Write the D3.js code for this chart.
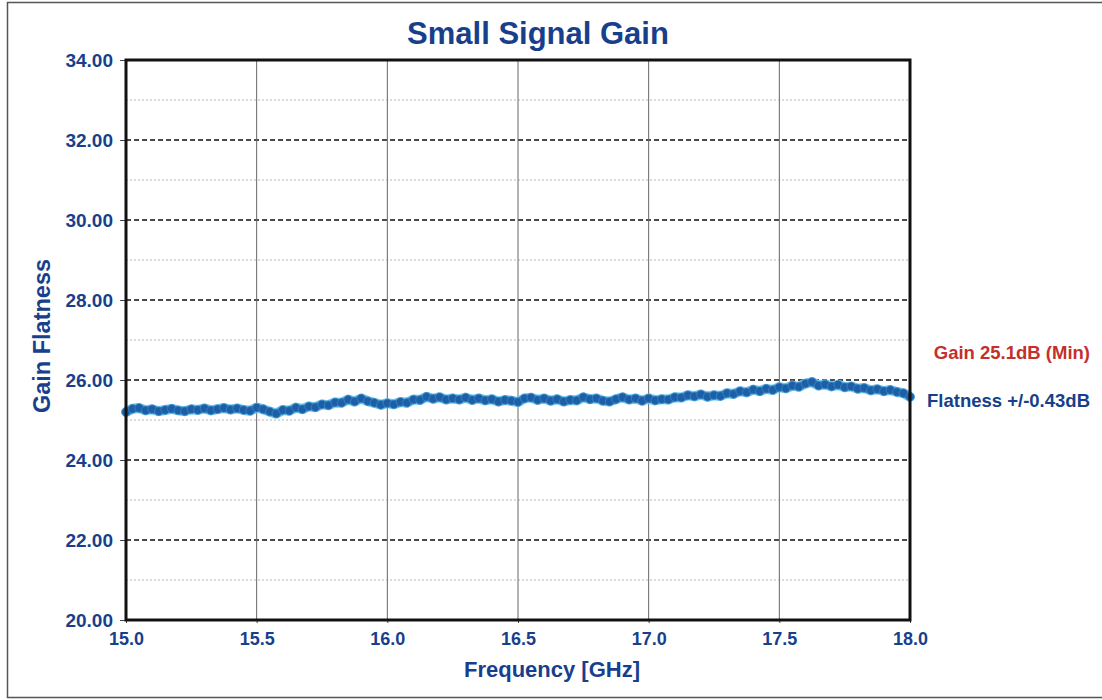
<!DOCTYPE html>
<html>
<head>
<meta charset="utf-8">
<script src="https://cdn.jsdelivr.net/npm/d3@7"></script>
<style>
  html, body { margin: 0; padding: 0; background: #fff; }
  svg { display: block; font-family: "Liberation Sans", Arial, sans-serif; }
</style>
</head>
<body>
<svg id="chart" width="1102" height="700"></svg>
<script>
// ---- data ----
const title = "Small Signal Gain";
const xLabel = "Frequency [GHz]";
const yLabel = "Gain Flatness";
const xTicks = [15.0, 15.5, 16.0, 16.5, 17.0, 17.5, 18.0];
const yTicks = [20, 22, 24, 26, 28, 30, 32, 34];
const yMinorTicks = [21, 23, 25, 27, 29, 31, 33];
const freqStart = 15.0;
const freqStep = 0.025;
const gain = [
  25.20, 25.28, 25.30, 25.24, 25.27, 25.22, 25.25, 25.28, 25.24, 25.22,
  25.27, 25.25, 25.29, 25.24, 25.27, 25.30, 25.26, 25.29, 25.25, 25.23,
  25.31, 25.27, 25.21, 25.16, 25.25, 25.23, 25.31, 25.27, 25.34, 25.32,
  25.39, 25.37, 25.44, 25.43, 25.51, 25.46, 25.54, 25.47, 25.43, 25.38,
  25.42, 25.39, 25.45, 25.43, 25.51, 25.50, 25.58, 25.53, 25.57, 25.51,
  25.54, 25.51, 25.56, 25.50, 25.54, 25.49, 25.52, 25.46, 25.50, 25.48,
  25.45, 25.54, 25.56, 25.50, 25.54, 25.48, 25.52, 25.46, 25.50, 25.49,
  25.57, 25.52, 25.54, 25.48, 25.46, 25.52, 25.57, 25.51, 25.54, 25.48,
  25.54, 25.49, 25.52, 25.51, 25.57, 25.56, 25.62, 25.59, 25.64, 25.58,
  25.62, 25.60, 25.67, 25.65, 25.72, 25.69, 25.76, 25.72, 25.78, 25.75,
  25.82, 25.79, 25.86, 25.83, 25.91, 25.95, 25.86, 25.89, 25.84, 25.88,
  25.82, 25.84, 25.78, 25.80, 25.74, 25.77, 25.72, 25.75, 25.70, 25.67,
  25.58
];
const notes = ["Gain 25.1dB (Min)", "Flatness +/-0.43dB"];

// ---- layout ----
const svg = d3.select("#chart");
const blue = "#183f8c";
const plot = { left: 126, right: 910, top: 60, bottom: 620 };

const x = d3.scaleLinear().domain([15, 18]).range([plot.left, plot.right]);
const y = d3.scaleLinear().domain([20, 34]).range([plot.bottom, plot.top]);

// outer page border (top, left, bottom)
svg.append("path")
  .attr("d", "M1102,2.5 H7.5 V697.5 H1102")
  .attr("fill", "none").attr("stroke", "#555").attr("stroke-width", 1.5);

// title
svg.append("text").attr("x", 538).attr("y", 44)
  .attr("text-anchor", "middle").attr("font-size", 31).attr("font-weight", "bold")
  .attr("fill", blue).text(title);

// minor horizontal dotted grid
svg.append("g").selectAll("line").data(yMinorTicks).join("line")
  .attr("x1", plot.left).attr("x2", plot.right)
  .attr("y1", d => y(d)).attr("y2", d => y(d))
  .attr("stroke", "#b5b5b5").attr("stroke-width", 1).attr("stroke-dasharray", "2,2");

// major horizontal dashed grid
svg.append("g").selectAll("line").data(yTicks.filter(d => d > 20 && d < 34)).join("line")
  .attr("x1", plot.left).attr("x2", plot.right)
  .attr("y1", d => y(d)).attr("y2", d => y(d))
  .attr("stroke", "#111").attr("stroke-width", 1.4).attr("stroke-dasharray", "5,3");

// vertical grid
svg.append("g").selectAll("line").data(xTicks.filter(d => d > 15 && d < 18)).join("line")
  .attr("x1", d => x(d)).attr("x2", d => x(d))
  .attr("y1", plot.top).attr("y2", plot.bottom)
  .attr("stroke", "#666").attr("stroke-width", 1);

// axes
const yAxis = d3.axisLeft(y).tickValues(yTicks).tickFormat(d3.format(".2f")).tickSize(6).tickPadding(7);
const gy = svg.append("g").attr("transform", `translate(${plot.left},0)`).call(yAxis);
gy.select(".domain").remove();
gy.selectAll(".tick line").attr("stroke", "#444");
gy.selectAll("text").attr("font-size", 19).attr("font-weight", "bold").attr("fill", blue)
  .attr("font-family", "Liberation Sans, Arial, sans-serif");

const xAxis = d3.axisBottom(x).tickValues(xTicks).tickFormat(d3.format(".1f")).tickSize(3).tickPadding(9);
const gx = svg.append("g").attr("transform", `translate(0,${plot.bottom})`).call(xAxis);
gx.select(".domain").remove();
gx.selectAll(".tick line").attr("stroke", "#444");
gx.selectAll("text").attr("font-size", 18).attr("font-weight", "bold").attr("fill", blue)
  .attr("font-family", "Liberation Sans, Arial, sans-serif");

// axis labels
svg.append("text").attr("transform", "translate(50,336) rotate(-90)")
  .attr("text-anchor", "middle").attr("font-size", 23.5).attr("font-weight", "bold")
  .attr("fill", blue).text(yLabel);
svg.append("text").attr("x", 552).attr("y", 677)
  .attr("text-anchor", "middle").attr("font-size", 22).attr("font-weight", "bold")
  .attr("fill", blue).text(xLabel);

// data
const pts = gain.map((g, i) => ({ f: freqStart + i * freqStep, g }));
const line = d3.line().x(d => x(d.f)).y(d => y(d.g)).curve(d3.curveLinear);
const gData = svg.append("g");
gData.append("path").datum(pts).attr("d", line)
  .attr("fill", "none").attr("stroke", "#6cc4ea").attr("stroke-width", 10)
  .attr("stroke-linejoin", "round").attr("stroke-linecap", "round");
gData.append("path").datum(pts).attr("d", line)
  .attr("fill", "none").attr("stroke", "#1d5fa6").attr("stroke-width", 7)
  .attr("stroke-linejoin", "round").attr("stroke-linecap", "round");
gData.selectAll("circle").data(pts).join("circle")
  .attr("cx", d => x(d.f)).attr("cy", d => y(d.g)).attr("r", 4.2)
  .attr("fill", "#1d5fa6").attr("stroke", "#3a86c8").attr("stroke-width", 0.8);

// plot frame
svg.append("rect").attr("x", plot.left).attr("y", plot.top)
  .attr("width", plot.right - plot.left).attr("height", plot.bottom - plot.top)
  .attr("fill", "none").attr("stroke", "#111").attr("stroke-width", 3);

// annotations
svg.append("text").attr("x", 1090).attr("y", 359).attr("text-anchor", "end")
  .attr("font-size", 18.5).attr("font-weight", "bold").attr("fill", "#c4302b").text(notes[0]);
svg.append("text").attr("x", 1090).attr("y", 407).attr("text-anchor", "end")
  .attr("font-size", 18.5).attr("font-weight", "bold").attr("fill", blue).text(notes[1]);
</script>
</body>
</html>
